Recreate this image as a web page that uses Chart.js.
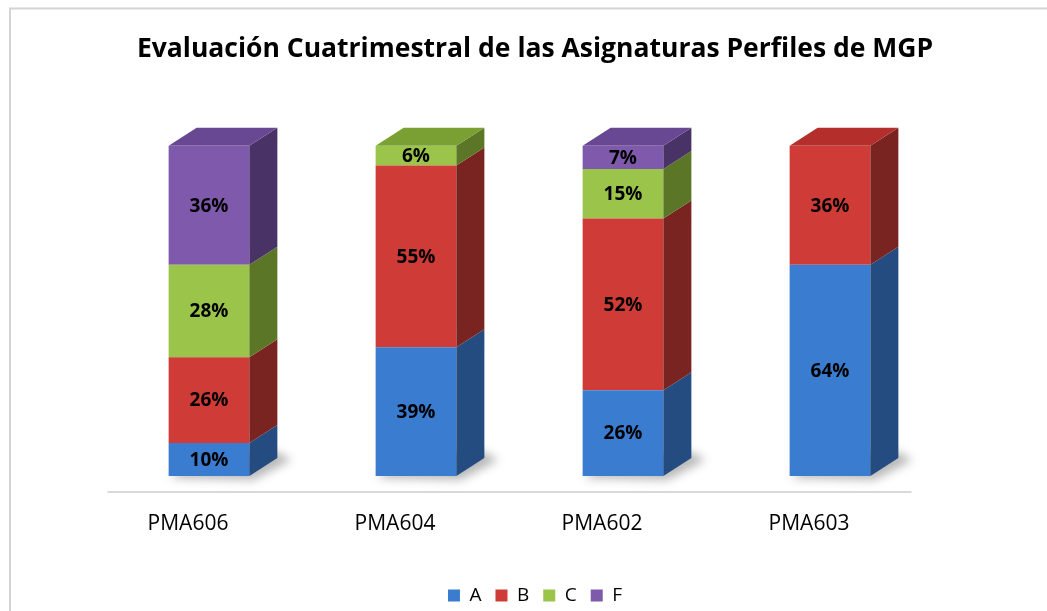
<!DOCTYPE html>
<html><head><meta charset="utf-8">
<script src="https://cdn.jsdelivr.net/npm/chart.js@4"></script>
<style>html,body{margin:0;padding:0;background:#fff;overflow:hidden}#wrap{width:1047px;height:611px;position:relative}</style>
</head><body><div id="wrap"><canvas id="c" width="1047" height="611"></canvas></div>
<script>
const categories = ['PMA606', 'PMA604', 'PMA602', 'PMA603'];
const seriesNames = ['A', 'B', 'C', 'F'];
const seriesA = [10, 39, 26, 64];
const seriesB = [26, 55, 52, 36];
const seriesC = [28, 6, 15, 0];
const seriesF = [36, 0, 7, 0];
const chartTitle = 'Evaluación Cuatrimestral de las Asignaturas Perfiles de MGP';

const frontColors = ['rgb(58,125,208)', 'rgb(207,60,55)', 'rgb(155,196,74)', 'rgb(127,90,172)'];
const sideColors  = ['rgb(36,76,128)', 'rgb(122,36,34)', 'rgb(92,118,40)', 'rgb(72,50,102)'];
const topColors   = ['rgb(70,140,220)', 'rgb(180,46,44)', 'rgb(122,160,52)', 'rgb(104,72,146)'];
const DX = 28, DY = 18;
const FONT = '"Open Sans", "DejaVu Sans", sans-serif';

const cube = {
  id: 'cube',
  beforeDraw(chart) {
    const ctx = chart.ctx;
    ctx.save();
    ctx.strokeStyle = '#d4d4d4';
    ctx.lineWidth = 2;
    ctx.beginPath();
    ctx.moveTo(1047, 8.5); ctx.lineTo(10, 8.5); ctx.lineTo(10, 611);
    ctx.stroke();
    ctx.restore();
  },
  beforeDatasetsDraw(chart) {
    const ctx = chart.ctx;
    const ys = chart.scales.y;
    const base0 = ys.getPixelForValue(0);
    ctx.save();
    ctx.strokeStyle = '#d9d9d9';
    ctx.lineWidth = 2;
    ctx.beginPath();
    ctx.moveTo(chart.chartArea.left + 2, base0 + 16);
    ctx.lineTo(chart.chartArea.right - 22, base0 + 16);
    ctx.stroke();
    const meta = chart.getDatasetMeta(0);
    ctx.filter = 'blur(5px)';
    ctx.fillStyle = 'rgba(0,0,0,0.28)';
    meta.data.forEach(el => {
      const l = el.x - el.width / 2, r = el.x + el.width / 2;
      ctx.beginPath();
      ctx.moveTo(l + 2, base0 + 2);
      ctx.lineTo(r + 4, base0 + 4);
      ctx.lineTo(r + DX + 14, base0 - DY + 2);
      ctx.lineTo(r + DX, base0 - DY - 6);
      ctx.lineTo(l + DX, base0 - DY - 6);
      ctx.closePath();
      ctx.fill();
    });
    ctx.restore();
  },
  afterDatasetsDraw(chart) {
    const ctx = chart.ctx;
    const dsets = chart.data.datasets;
    ctx.save();
    for (let i = 0; i < categories.length; i++) {
      let topDs = -1;
      dsets.forEach((ds, d) => { if (ds.data[i] > 0) topDs = d; });
      dsets.forEach((ds, d) => {
        if (!(ds.data[i] > 0)) return;
        const el = chart.getDatasetMeta(d).data[i];
        const { x, y, base, width } = el.getProps(['x', 'y', 'base', 'width'], true);
        const l = x - width / 2, r = x + width / 2;
        ctx.fillStyle = sideColors[d];
        ctx.beginPath();
        ctx.moveTo(r, y); ctx.lineTo(r + DX, y - DY); ctx.lineTo(r + DX, base - DY); ctx.lineTo(r, base);
        ctx.closePath(); ctx.fill();
        if (d === topDs) {
          ctx.fillStyle = topColors[d];
          ctx.beginPath();
          ctx.moveTo(l, y); ctx.lineTo(r, y); ctx.lineTo(r + DX, y - DY); ctx.lineTo(l + DX, y - DY);
          ctx.closePath(); ctx.fill();
        }
      });
    }
    ctx.fillStyle = '#000';
    ctx.font = 'bold 19px ' + FONT;
    ctx.textAlign = 'center';
    ctx.textBaseline = 'middle';
    dsets.forEach((ds, d) => {
      chart.getDatasetMeta(d).data.forEach((el, i) => {
        const v = ds.data[i];
        if (!(v > 0)) return;
        ctx.fillText(v + '%', el.x, (el.y + el.base) / 2 + 1);
      });
    });
    ctx.restore();
  }
};

const seriesData = [seriesA, seriesB, seriesC, seriesF];
new Chart(document.getElementById('c'), {
  type: 'bar',
  data: {
    labels: categories,
    datasets: seriesNames.map((n, k) => ({
      label: n,
      data: seriesData[k],
      backgroundColor: frontColors[k],
      borderColor: sideColors[k],
      borderWidth: 0,
      categoryPercentage: 1,
      barPercentage: 0.39
    }))
  },
  options: {
    responsive: false,
    animation: false,
    devicePixelRatio: 1,
    layout: { padding: { left: 105.5, right: 82.5, top: 0, bottom: -4 } },
    scales: {
      x: {
        stacked: true,
        grid: { display: false, drawTicks: false },
        border: { display: false },
        ticks: { color: '#000', font: { family: FONT, size: 21 }, padding: 35, labelOffset: -21 },
        afterFit(scale) { scale.height = 96; }
      },
      y: {
        stacked: true, position: 'right', min: 0, max: 100,
        grid: { display: false, drawTicks: false },
        border: { display: false },
        ticks: { display: false },
        afterFit(scale) { scale.width = 31; }
      }
    },
    plugins: {
      title: {
        display: true, text: chartTitle, color: '#000',
        font: { family: FONT, size: 26.5, weight: 'bold' },
        padding: { top: 34, bottom: 80 }
      },
      legend: {
        position: 'bottom',
        labels: { color: '#000', font: { family: FONT, size: 19 }, boxWidth: 12, boxHeight: 12, padding: 14 }
      },
      tooltip: { enabled: false }
    }
  },
  plugins: [cube]
});
</script>
</body></html>
